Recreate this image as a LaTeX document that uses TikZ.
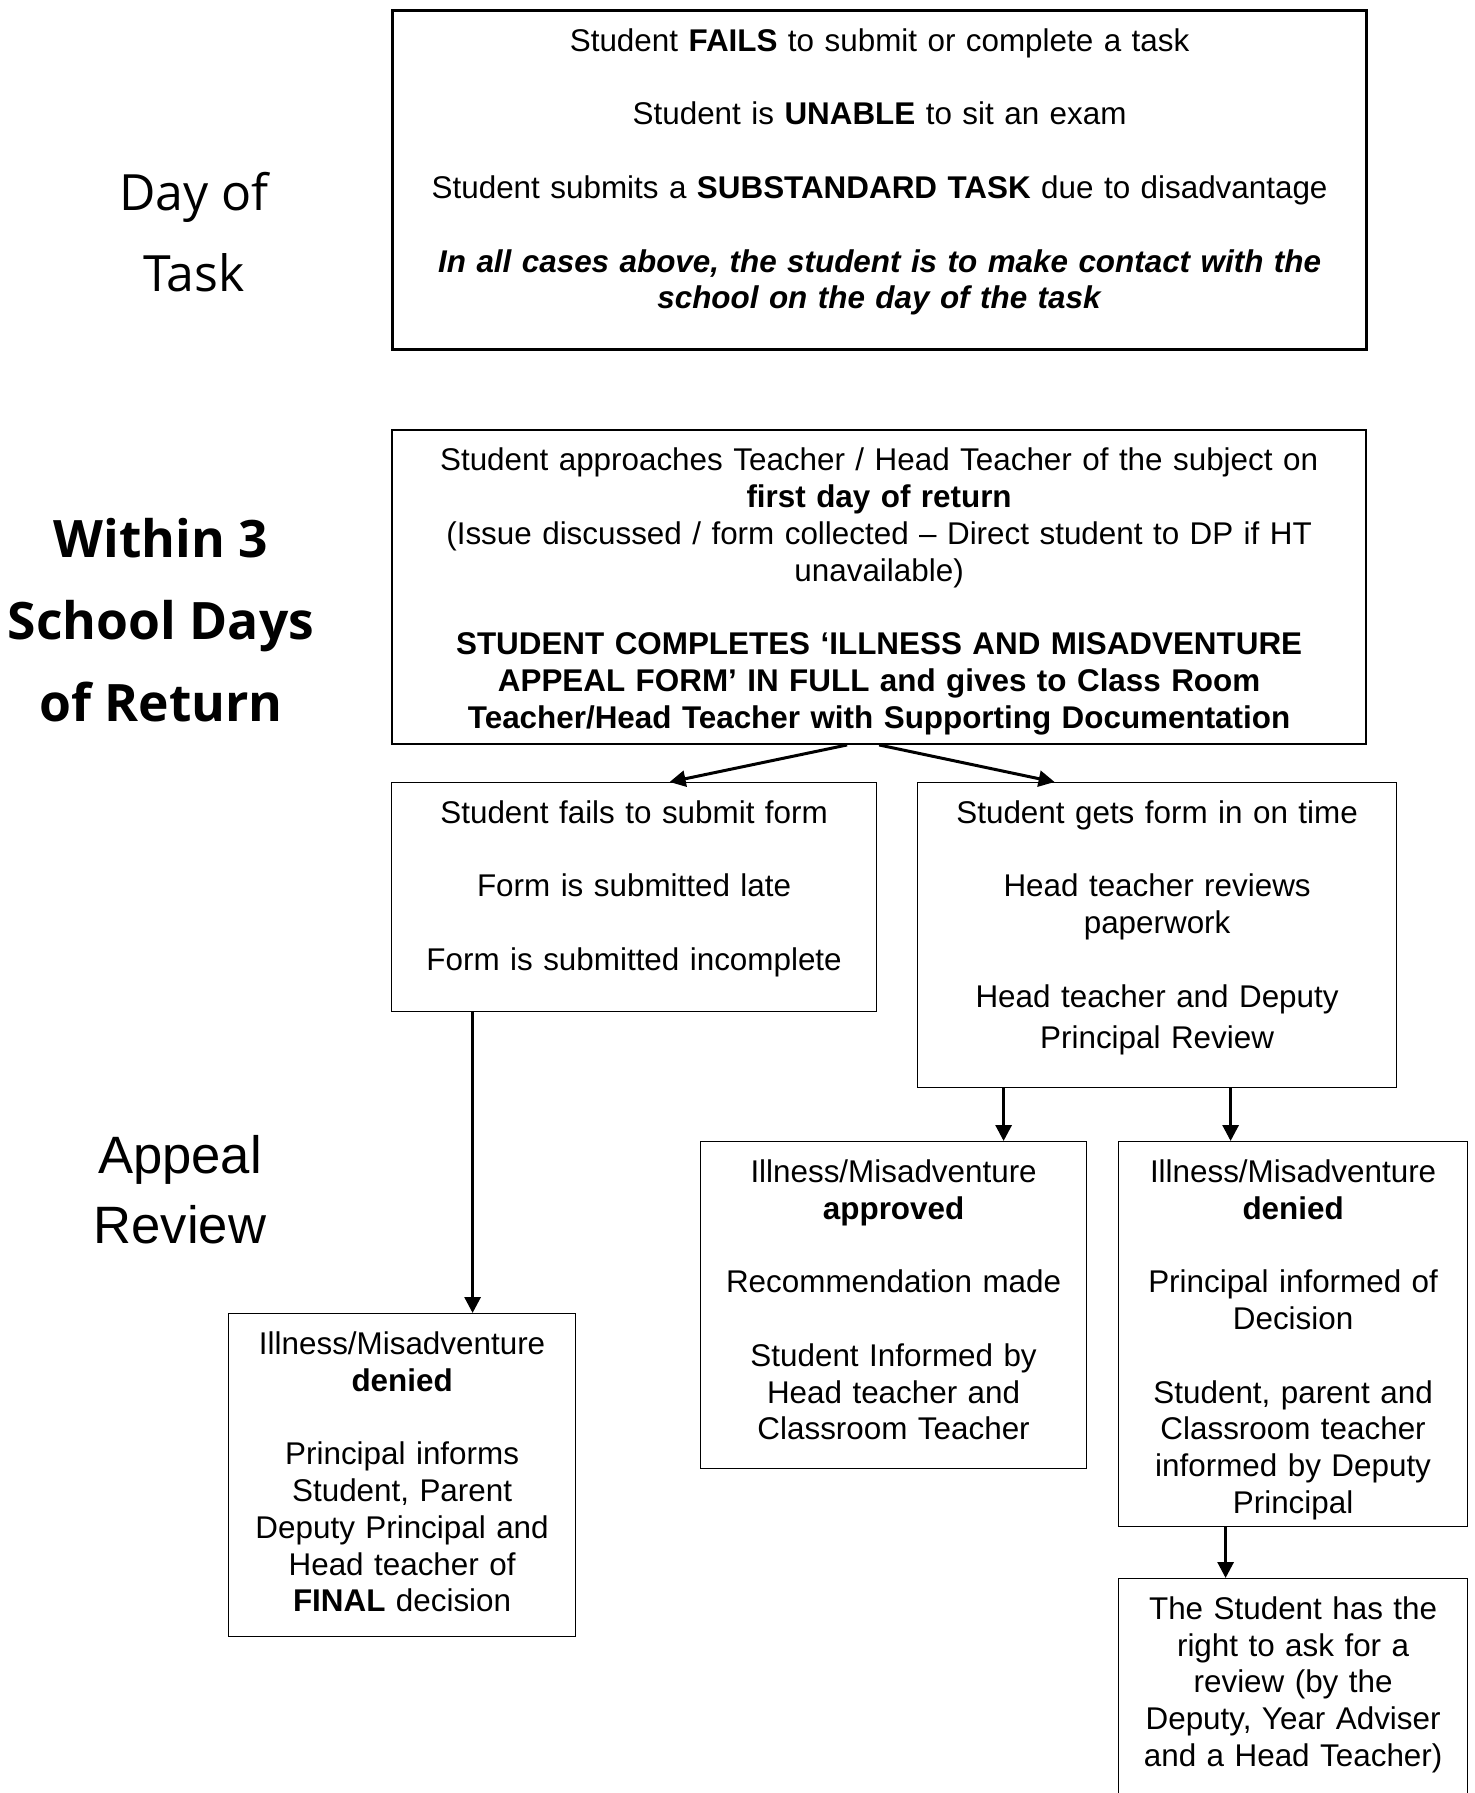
\documentclass[tikz,border=0pt]{standalone}
\usepackage{fontspec}
\setmainfont{Liberation Sans}
\newfontfamily\segoe{Open Sans}
\usepackage{tikz}
\usetikzlibrary{arrows.meta}

\newcommand{\blankline}{\\[\baselineskip]}

\begin{document}
\begin{tikzpicture}[
        x = 0.5pt,
        y = -0.5pt,
        box/.style = {
                draw,
                rectangle,
                line width=0.6pt,
                align=center,
                anchor=north west,
                inner xsep=0pt,
                inner ysep=9pt,
                font=\fontsize{15.7}{18.4}\selectfont,
            },
        arr/.style = {
                line width=1.5pt,
                -{Triangle[length=8pt,width=8pt]},
            },
        side/.style = {
                align=center,
                inner sep=0pt,
            },
    ]
    \useasboundingbox (0,0) rectangle (1475,1793);
    \fill[white] (0,0) rectangle (1475,1793);

    % stage labels on the left
    \node[side, font=\segoe\fontsize{25}{40.5}\selectfont] (DayTask) at (194,232) {Day of\\Task};
    \node[side, font=\segoe\bfseries\fontsize{25.8}{41}\selectfont] (Within) at (161,620) {Within 3\\School Days\\of Return};
    \node[side, font=\fontsize{26.3}{35}\selectfont] (Appeal) at (180,1190) {Appeal\\Review};

    % flow boxes (text hangs from the top, text depth fixes the height)
    \node[box, line width=1.6pt, text width=487pt, text depth=140pt] (Task) at (391,9) {
        Student \textbf{FAILS} to submit or complete a task\blankline
        Student is \textbf{UNABLE} to sit an exam\blankline
        Student submits a \textbf{SUBSTANDARD TASK} due to disadvantage\blankline
        \textbf{\itshape In all cases above, the student is to make contact with the\\
            school on the day of the task}};
    \node[box, line width=1.1pt, text width=487pt, text depth=127.5pt] (Return) at (391,429) {
        Student approaches Teacher / Head Teacher of the subject on\\
        \textbf{first day of return}\\
        (Issue discussed / form collected -- Direct student to DP if HT\\
        unavailable)\blankline
        \textbf{STUDENT COMPLETES `ILLNESS AND MISADVENTURE\\
            APPEAL FORM' IN FULL and gives to Class Room\\
            Teacher/Head Teacher with Supporting Documentation}};
    \node[box, text width=242.5pt, text depth=85pt] (Late) at (391,782) {
        Student fails to submit form\blankline
        Form is submitted late\blankline
        Form is submitted incomplete};
    \node[box, text width=239.5pt, text depth=123pt] (OnTime) at (917,782) {
        Student gets form in on time\blankline
        Head teacher reviews\\ paperwork\blankline
        Head teacher and Deputy\\[2pt] Principal Review};
    \node[box, text width=193pt, text depth=134pt] (Approved) at (700,1141) {
        Illness/Misadventure\\ \textbf{approved}\blankline
        Recommendation made\blankline
        Student Informed by\\ Head teacher and\\ Classroom Teacher};
    \node[box, text width=174.5pt, text depth=163pt] (Denied) at (1118,1141) {
        Illness/Misadventure\\ \textbf{denied}\blankline
        Principal informed of\\ Decision\blankline
        Student, parent and\\ Classroom teacher\\ informed by Deputy\\ Principal};
    \node[box, text width=173.5pt, text depth=132pt] (Final) at (228,1313) {
        Illness/Misadventure\\ \textbf{denied}\blankline
        Principal informs\\ Student, Parent\\ Deputy Principal and\\ Head teacher of\\ \textbf{FINAL} decision};
    \node[box, text width=174.5pt, text depth=150pt] (Review) at (1118,1578) {
        The Student has the\\ right to ask for a\\ review (by the\\ Deputy, Year Adviser\\ and a Head Teacher)};

    % connectors
    \draw[arr] ([xshift=-16pt]Return.south) -- ([xshift=17.75pt]Late.north);
    \draw[arr] (Return.south) -- ([xshift=-51.25pt]OnTime.north);
    \draw[arr] ([xshift=-80.75pt]Late.south) -- ([xshift=-80.75pt]Late.south |- Final.north);
    \draw[arr] ([xshift=-76.75pt]OnTime.south) -- ([xshift=-76.75pt]OnTime.south |- Approved.north);
    \draw[arr] ([xshift=36.75pt]OnTime.south) -- ([xshift=36.75pt]OnTime.south |- Denied.north);
    \draw[arr] ([xshift=-33.75pt]Denied.south) -- ([xshift=-33.75pt]Denied.south |- Review.north);
\end{tikzpicture}
\end{document}
